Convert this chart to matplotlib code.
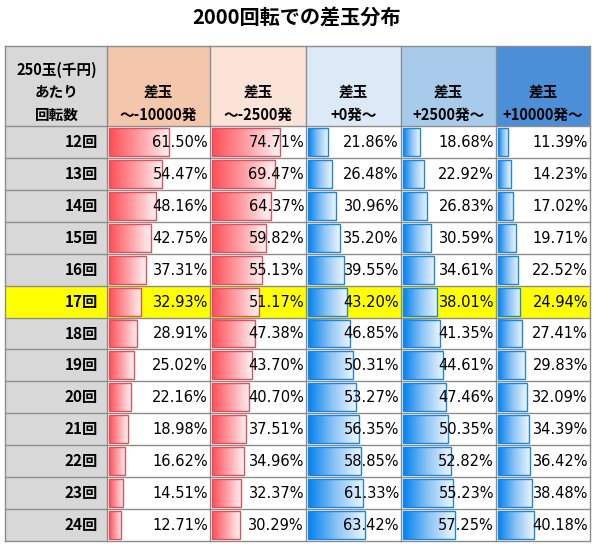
import numpy as np
import matplotlib.pyplot as plt
from matplotlib.colors import LinearSegmentedColormap
from matplotlib.patches import Rectangle

plt.rcParams['font.family'] = ['Noto Sans CJK JP', 'DejaVu Sans']

# data
title = "2000回転での差玉分布"
corner_label = ["250玉(千円)", "あたり", "回転数"]
col_labels = [["差玉", "～-10000発"], ["差玉", "～-2500発"], ["差玉", "+0発～"],
              ["差玉", "+2500発～"], ["差玉", "+10000発～"]]
row_labels = ["12回", "13回", "14回", "15回", "16回", "17回", "18回",
              "19回", "20回", "21回", "22回", "23回", "24回"]
lose_10000 = [61.50, 54.47, 48.16, 42.75, 37.31, 32.93, 28.91, 25.02, 22.16, 18.98, 16.62, 14.51, 12.71]
lose_2500 = [74.71, 69.47, 64.37, 59.82, 55.13, 51.17, 47.38, 43.70, 40.70, 37.51, 34.96, 32.37, 30.29]
win_0 = [21.86, 26.48, 30.96, 35.20, 39.55, 43.20, 46.85, 50.31, 53.27, 56.35, 58.85, 61.33, 63.42]
win_2500 = [18.68, 22.92, 26.83, 30.59, 34.61, 38.01, 41.35, 44.61, 47.46, 50.35, 52.82, 55.23, 57.25]
win_10000 = [11.39, 14.23, 17.02, 19.71, 22.52, 24.94, 27.41, 29.83, 32.09, 34.39, 36.42, 38.48, 40.18]
highlight_row = "17回"

series = [lose_10000, lose_2500, win_0, win_2500, win_10000]

# layout in pixels
col_edges = [5, 107, 210, 306, 401, 496, 590]
head_top, head_bot = 46, 126
row_h = (541 - head_bot) / len(row_labels)
head_colors = ["#f4c6ab", "#fbe3d7", "#dceaf8", "#a8cbec", "#4b8fd8"]
grey = "#d8d8d8"
yellow = "#ffff00"
line_col = "#8c8c8c"

red_cmap = LinearSegmentedColormap.from_list("r", ["#ff4d55", "#ff9ea4", "#fff4f4"])
blue_cmap = LinearSegmentedColormap.from_list("b", ["#0080f0", "#8cc4f6", "#eef6ff"])
grad = np.linspace(0, 1, 256).reshape(1, -1)

fig = plt.figure(figsize=(5.95, 5.48), dpi=100)
ax = fig.add_axes([0, 0, 1, 1])
ax.set_xlim(0, 595)
ax.set_ylim(548, 0)
ax.axis("off")

ax.text(297, 17, title, ha="center", va="center", fontsize=14.5, fontweight="bold")

# header
ax.add_patch(Rectangle((col_edges[0], head_top), col_edges[1] - col_edges[0],
                       head_bot - head_top, facecolor=grey, edgecolor="none"))
for k, line in enumerate(corner_label):
    ax.text((col_edges[0] + col_edges[1]) / 2 + 1, 69.5 + k * 22.5, line, ha="center",
            va="center", fontsize=10.5, fontweight="bold")
for j, lab in enumerate(col_labels):
    x0, x1 = col_edges[j + 1], col_edges[j + 2]
    ax.add_patch(Rectangle((x0, head_top), x1 - x0, head_bot - head_top,
                           facecolor=head_colors[j], edgecolor="none"))
    ax.text((x0 + x1) / 2, 91.5, lab[0], ha="center", va="center", fontsize=10.5, fontweight="bold")
    ax.text((x0 + x1) / 2, 114.5, lab[1], ha="center", va="center", fontsize=10.5, fontweight="bold")

# body
for i, rl in enumerate(row_labels):
    y0 = head_bot + i * row_h
    hl = rl == highlight_row
    ax.add_patch(Rectangle((col_edges[0], y0), col_edges[1] - col_edges[0], row_h,
                           facecolor=yellow if hl else grey, edgecolor="none"))
    ax.text(col_edges[1] - 9, y0 + row_h / 2, rl, ha="right", va="center",
            fontsize=11, fontweight="bold")
    for j, vals in enumerate(series):
        x0, x1 = col_edges[j + 1], col_edges[j + 2]
        if hl:
            ax.add_patch(Rectangle((x0, y0), x1 - x0, row_h, facecolor=yellow, edgecolor="none"))
        v = vals[i]
        bw = (x1 - x0 - 5) * v / 100
        cmap = red_cmap if j < 2 else blue_cmap
        edge = "#e0505e" if j < 2 else "#1a88e0"
        ax.imshow(grad, cmap=cmap, aspect="auto", interpolation="bilinear",
                  extent=(x0 + 2, x0 + 2 + bw, y0 + row_h - 2, y0 + 2), zorder=2)
        ax.add_patch(Rectangle((x0 + 2, y0 + 2), bw, row_h - 4, facecolor="none",
                               edgecolor=edge, linewidth=1, zorder=3))
        ax.text(x1 - 2, y0 + row_h / 2 + 0.5, f"{v:.2f}%", ha="right", va="center",
                fontsize=10.5, family="DejaVu Sans", zorder=4)

# grid lines
bottom = head_bot + len(row_labels) * row_h
for x in col_edges:
    ax.plot([x, x], [head_top, bottom], color=line_col, lw=1, zorder=5)
ax.plot([col_edges[0], col_edges[-1]], [head_top, head_top], color=line_col, lw=1, zorder=5)
for i in range(len(row_labels) + 1):
    y = head_bot + i * row_h
    ax.plot([col_edges[0], col_edges[-1]], [y, y], color=line_col, lw=1, zorder=5)

fig.savefig("out.png", dpi=100)
